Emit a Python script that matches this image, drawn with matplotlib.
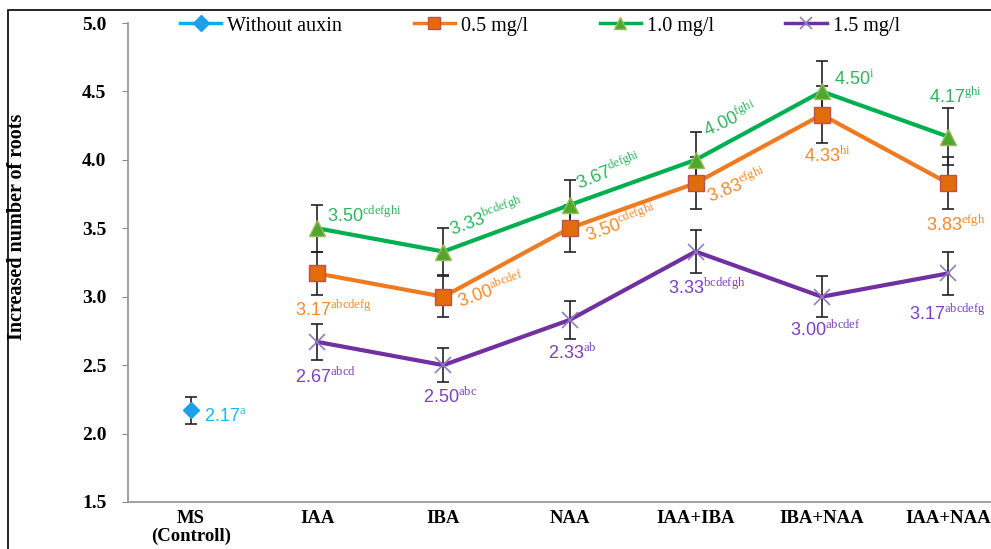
import numpy as np
import matplotlib
matplotlib.use("Agg")
import matplotlib.pyplot as plt
from matplotlib.patches import Rectangle

plt.rcParams['mathtext.fontset'] = 'custom'
plt.rcParams['mathtext.rm'] = 'Liberation Serif'

# data
groups = ["MS\n(Controll)", "IAA", "IBA", "NAA", "IAA+IBA", "IBA+NAA", "IAA+NAA"]
ctrl_val = [2.17]
ctrl_err = [0.10]
ctrl_lab = ["2.17$^{\\mathrm{a}}$"]

v05 = [3.17, 3.00, 3.50, 3.83, 4.33, 3.83]
e05 = [0.16, 0.15, 0.17, 0.19, 0.21, 0.19]
l05 = ["3.17$^{\\mathrm{abcdefg}}$", "3.00$^{\\mathrm{abcdef}}$", "3.50$^{\\mathrm{cdefghi}}$",
       "3.83$^{\\mathrm{efghi}}$", "4.33$^{\\mathrm{hi}}$", "3.83$^{\\mathrm{efgh}}$"]

v10 = [3.50, 3.33, 3.67, 4.00, 4.50, 4.17]
e10 = [0.17, 0.17, 0.18, 0.20, 0.22, 0.21]
l10 = ["3.50$^{\\mathrm{cdefghi}}$", "3.33$^{\\mathrm{bcdefgh}}$", "3.67$^{\\mathrm{defghi}}$",
       "4.00$^{\\mathrm{fghi}}$", "4.50$^{\\mathrm{i}}$", "4.17$^{\\mathrm{ghi}}$"]

v15 = [2.67, 2.50, 2.83, 3.33, 3.00, 3.17]
e15 = [0.13, 0.125, 0.14, 0.16, 0.15, 0.16]
l15 = ["2.67$^{\\mathrm{abcd}}$", "2.50$^{\\mathrm{abc}}$", "2.33$^{\\mathrm{ab}}$",
       "3.33$^{\\mathrm{bcdefgh}}$", "3.00$^{\\mathrm{abcdef}}$", "3.17$^{\\mathrm{abcdefg}}$"]

fig = plt.figure(figsize=(9.91, 5.49), dpi=100)
ax = fig.add_axes([128/991, 47/549, 883/991, 479/549])

x = np.arange(len(groups))
xa = x[1:]

# error bars
ax.errorbar(x[:1], ctrl_val, yerr=ctrl_err, fmt='none', ecolor='#222222', elinewidth=1.2, capsize=4.5, capthick=1.2, zorder=2)
for v, e in [(v05, e05), (v10, e10), (v15, e15)]:
    ax.errorbar(xa, v, yerr=e, fmt='none', ecolor='#222222', elinewidth=1.2, capsize=4.5, capthick=1.2, zorder=2)

ax.plot(x[:1], ctrl_val, color='#00B0F0', marker='D', markersize=8, markerfacecolor='#1E9FE8',
        markeredgecolor='#1E9FE8', lw=3, label='Without auxin', zorder=3)
ax.plot(xa, v05, color='#EE7A22', marker='s', markersize=11, markerfacecolor='#E36C0A',
        markeredgecolor='#C0504D', lw=3, label='0.5 mg/l', zorder=3)
ax.plot(xa, v10, color='#00B050', marker='^', markersize=11, markerfacecolor='#4EA72E',
        markeredgecolor='#9BBB59', lw=3, label='1.0 mg/l', zorder=3)
ax.plot(xa, v15, color='#7030A0', marker='x', markersize=12, markeredgecolor='#8E7CC3',
        markeredgewidth=1.2, lw=3, label='1.5 mg/l', zorder=3)

# label offsets (pixels from point): dx, dy, rotation, va
off05 = [(-22, -36, 0, 'center'), (17, -11, 20, 'baseline'), (19, -14, 20, 'baseline'),
         (15, -20, 22, 'baseline'), (-18, -41, 0, 'center'), (-22, -41, 0, 'center')]
off10 = [(10, 13, 0, 'center'), (9, 15, 20, 'baseline'), (10, 15, 22, 'baseline'),
         (12, 23, 25, 'baseline'), (12, 12, 0, 'center'), (-19, 40, 0, 'center')]
off15 = [(-22, -35, 0, 'center'), (-20, -32, 0, 'center'), (-22, -33, 0, 'center'),
         (-28, -36, 0, 'center'), (-32, -33, 0, 'center'), (-39, -40, 0, 'center')]

def put_labels(xs, vals, labs, offs, color):
    for xi, v, t, (dx, dy, rot, va) in zip(xs, vals, labs, offs):
        ax.annotate(t, (xi, v), xytext=(dx * 0.72, dy * 0.72), textcoords='offset points',
                    ha='left', va=va, rotation=rot, rotation_mode='anchor',
                    fontsize=13, family='Liberation Sans', color=color, zorder=4,
                    annotation_clip=False)

put_labels(x[:1], ctrl_val, ctrl_lab, [(13, -7, 0, 'center')], '#1FB4F0')
put_labels(xa, v05, l05, off05, '#F5892A')
put_labels(xa, v10, l10, off10, '#2DB55D')
put_labels(xa, v15, l15, off15, '#7F3FBF')

ax.set_xlim(-0.5, 6.5)
ax.set_ylim(1.5, 5.0)
ax.set_yticks(np.arange(1.5, 5.01, 0.5))
ax.set_yticklabels(["%.1f" % t for t in np.arange(1.5, 5.01, 0.5)],
                   fontsize=14, fontweight='bold', family='Liberation Serif')
ax.set_xticks(x)
ax.set_xticklabels(groups, fontsize=13.5, fontweight='bold', family='Liberation Serif',
                   linespacing=1.05)
ax.tick_params(axis='x', length=0, pad=6)
ax.tick_params(axis='y', length=4.5, color='#888888', pad=11)
for s in ['top', 'right']:
    ax.spines[s].set_visible(False)
for s in ['left', 'bottom']:
    ax.spines[s].set_color('#999999')
    ax.spines[s].set_linewidth(1.3)

ax.set_ylabel("Increased number of roots", fontsize=14.5, fontweight='bold',
              family='Liberation Serif')
ax.yaxis.set_label_coords(-101/883, 0.575)

leg = ax.legend(ncol=4, loc='center left', bbox_to_anchor=(180/991, 1 - 26/549),
                bbox_transform=fig.transFigure, frameon=False, borderpad=0, borderaxespad=0,
                handlelength=2.05, handletextpad=0.3, columnspacing=3.55,
                prop={'family': 'Liberation Serif', 'size': 14.5})
for h in leg.legend_handles:
    h.set_markersize(8)
    h.set_linewidth(2.5)

# outer frame of the original figure
fig.patches.append(Rectangle((8/991, -0.1), 1.1, 1 - 10/549 + 0.1, transform=fig.transFigure,
                             fill=False, edgecolor='black', lw=1.2, zorder=0))

fig.savefig("out.png", dpi=100)
